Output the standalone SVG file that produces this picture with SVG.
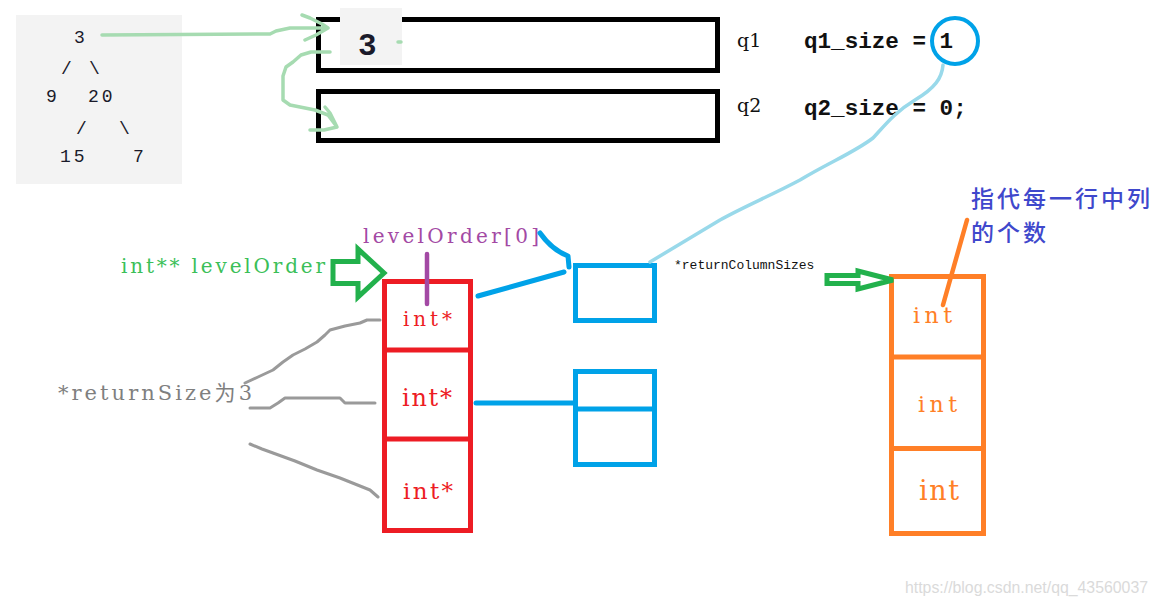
<svg xmlns="http://www.w3.org/2000/svg" width="1158" height="605" viewBox="0 0 1158 605">
<style>
.mono{font-family:"Liberation Mono","DejaVu Sans Mono",monospace}
.serif{font-family:"DejaVu Serif","Liberation Serif","Noto Sans CJK SC",serif}
.cjk{font-family:"Noto Sans CJK SC","Liberation Serif",serif}
.qbox{fill:none;stroke:#000;stroke-width:5}
.red{fill:none;stroke:#ed1c24;stroke-width:5}
.blue{fill:none;stroke:#00a2e8;stroke-width:5}
.orange{fill:none;stroke:#ff7f27;stroke-width:5}
.garrow{fill:none;stroke:#22b14c;stroke-width:5;stroke-linejoin:miter}
.lgreen{fill:none;stroke:#a6dbb1;stroke-width:3.5;stroke-linecap:round;stroke-linejoin:round}
.gray{fill:none;stroke:#9a9a9a;stroke-width:3;stroke-linecap:round;stroke-linejoin:round}
.redt{fill:#ed1c24}
.oranget{fill:#ff7f27}
</style>
<rect width="1158" height="605" fill="#ffffff"/>

<g id="tree">
<rect x="16" y="15" width="166" height="169" fill="#f3f3f3"/>
<g class="mono" font-size="18" fill="#1a1a2a">
<text x="74" y="43">3</text>
<text x="61" y="74">/</text>
<text x="89" y="74">\</text>
<text x="46" y="102">9</text>
<text x="88" y="102" letter-spacing="3">20</text>
<text x="76" y="134">/</text>
<text x="119" y="134">\</text>
<text x="60" y="162" letter-spacing="3">15</text>
<text x="133" y="162">7</text>
</g>
</g>

<g id="q1">
<rect class="qbox" x="318.5" y="19.5" width="399" height="51"/>
<rect x="340" y="8" width="62" height="57" fill="#f3f3f3"/>
<text class="mono" x="358" y="55" font-size="31" font-weight="bold" fill="#1a1a2a">3</text>
<text class="serif" x="737" y="47" font-size="19" fill="#111">q1</text>
<text class="mono" x="804" y="48" font-size="22.6" font-weight="bold" fill="#111">q1_size = 1</text>
<circle cx="955" cy="41" r="23" fill="none" stroke="#00a2e8" stroke-width="4"/>
</g>

<g id="q2">
<rect class="qbox" x="318.5" y="91.5" width="399" height="49"/>
<text class="serif" x="737" y="112" font-size="19" fill="#111">q2</text>
<text class="mono" x="804" y="115" font-size="22.6" font-weight="bold" fill="#111">q2_size = 0;</text>
</g>

<g id="levelOrder-label">
<text class="serif" x="121" y="273" font-size="20" fill="#3bbf58" textLength="204" lengthAdjust="spacing">int** levelOrder</text>
</g>

<g id="levelOrder0-label">
<text class="serif" x="363" y="243" font-size="20" fill="#a349a4" textLength="176" lengthAdjust="spacing">levelOrder[0]</text>
</g>

<g id="returnSize-label">
<text class="serif" x="58" y="400" font-size="21" fill="#7f7f7f" textLength="194" lengthAdjust="spacing">*returnSize为3</text>
</g>

<g id="columnSizes-label">
<text class="mono" x="674" y="269" font-size="13" fill="#111">*returnColumnSizes</text>
</g>

<g id="note-label">
<text class="cjk" x="971" y="207" font-size="23" font-weight="500" fill="#3f48cc" letter-spacing="3">指代每一行中列</text>
<text class="cjk" x="971" y="241" font-size="23" font-weight="500" fill="#3f48cc" letter-spacing="3">的个数</text>
</g>

<g id="row-pointers">
<rect class="red" x="384.5" y="281.5" width="86" height="249"/>
<line class="red" x1="384.5" y1="350" x2="470.5" y2="350"/>
<line class="red" x1="384.5" y1="439" x2="470.5" y2="439"/>
<text class="serif redt" x="403" y="326" font-size="20" textLength="49" lengthAdjust="spacing">int*</text>
<text class="serif redt" x="402" y="406" font-size="24" textLength="50" lengthAdjust="spacing">int*</text>
<text class="serif redt" x="403" y="499" font-size="23" textLength="50" lengthAdjust="spacing">int*</text>
</g>

<g id="row0">
<rect class="blue" x="575.5" y="265.5" width="79" height="55"/>
</g>

<g id="row1">
<rect class="blue" x="575.5" y="371.5" width="79" height="93"/>
<line class="blue" x1="575.5" y1="409" x2="654.5" y2="409"/>
</g>

<g id="column-sizes">
<rect class="orange" x="891.5" y="276.5" width="92" height="257"/>
<line class="orange" x1="891.5" y1="357" x2="983.5" y2="357"/>
<line class="orange" x1="891.5" y1="448.5" x2="983.5" y2="448.5"/>
<text class="serif oranget" x="913" y="323" font-size="22" textLength="39" lengthAdjust="spacing">int</text>
<text class="serif oranget" x="918" y="412" font-size="22" textLength="39" lengthAdjust="spacing">int</text>
<text class="serif oranget" x="919" y="500" font-size="27" textLength="40" lengthAdjust="spacing">int</text>
</g>

<g id="connectors">
<path class="lgreen" d="M102,35 L270,34 L276,31 L290,28 L328,28 M302,15 L310,18 L322,24 L328,28 L316,35 L305,40"/>
<path class="lgreen" d="M330,52 L311,52 L301,55 L293,62 L286,67 L283,76 L283,100 L290,105 L300,107 L315,110 L328,115 L337,127 M325,107 L330,113 L337,127 L324,130 L310,130"/>
<line class="lgreen" x1="398" y1="42" x2="401" y2="42"/>
<path fill="none" stroke="#99d9ea" stroke-width="3.5" stroke-linecap="round" stroke-linejoin="round" d="M943,65 C942,78 935,88 915,100 C895,112 885,125 873,138 C855,152 830,162 800,180 C770,196 745,206 720,220 C700,232 680,244 650,262"/>
<polygon class="garrow" points="333,261.5 358,261.5 358,249 384,273 358,297 358,283.5 333,283.5"/>
<polygon class="garrow" points="827,275.5 858,275.5 858,271 893,280 858,289 858,283.5 827,283.5"/>
<line x1="427" y1="254" x2="427" y2="304" stroke="#a349a4" stroke-width="4.5" stroke-linecap="round"/>
<line x1="478" y1="296" x2="564" y2="272" stroke="#00a2e8" stroke-width="5" stroke-linecap="round"/>
<path d="M540,233 Q552,250 568,256 L569,267" fill="none" stroke="#00a2e8" stroke-width="5" stroke-linecap="round" stroke-linejoin="round"/>
<line x1="476" y1="403" x2="575" y2="403" stroke="#00a2e8" stroke-width="5" stroke-linecap="round"/>
<line x1="967" y1="220" x2="943" y2="305" stroke="#ff7f27" stroke-width="4.5" stroke-linecap="round"/>
<path class="gray" d="M245,383 L258,377 L273,370 L283,362 L293,355 L305,349 L317,342 L325,335 L330,330 L345,326 L360,323 L367,320 L380,320"/>
<path class="gray" d="M250,408 L270,408 L278,403 L285,398 L340,398 L345,403 L375,403"/>
<path class="gray" d="M250,444 L262,449 L273,453 L295,461 L317,470 L340,478 L355,484 L370,490 L378,497"/>
</g>

<text x="905" y="593" font-family="Liberation Sans, Arial, sans-serif" font-size="16" fill="#dadada" textLength="243" lengthAdjust="spacingAndGlyphs">https://blog.csdn.net/qq_43560037</text>
</svg>
